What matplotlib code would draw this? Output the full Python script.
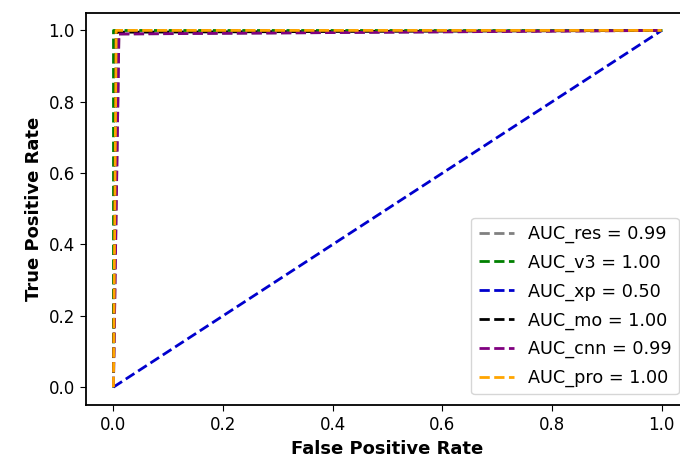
import matplotlib.pyplot as plt

# curvas ROC
nombres = ["AUC_res = 0.99", "AUC_v3 = 1.00", "AUC_xp = 0.50",
           "AUC_mo = 1.00", "AUC_cnn = 0.99", "AUC_pro = 1.00"]
colores = ["grey", "green", "mediumblue", "black", "purple", "orange"]

fpr_res = [0.0, 0.01, 1.0]
tpr_res = [0.0, 0.99, 1.0]
fpr_v3 = [0.0, 0.0, 1.0]
tpr_v3 = [0.0, 1.0, 1.0]
fpr_xp = [0.0, 1.0]
tpr_xp = [0.0, 1.0]
fpr_mo = [0.0, 0.005, 1.0]
tpr_mo = [0.0, 0.995, 1.0]
fpr_cnn = [0.0, 0.01, 1.0]
tpr_cnn = [0.0, 0.99, 1.0]
fpr_pro = [0.0, 0.005, 1.0]
tpr_pro = [0.0, 1.0, 1.0]

curvas = [(fpr_res, tpr_res), (fpr_v3, tpr_v3), (fpr_xp, tpr_xp),
          (fpr_mo, tpr_mo), (fpr_cnn, tpr_cnn), (fpr_pro, tpr_pro)]

fig = plt.figure(figsize=(6.8, 4.66), dpi=100)
# la imagen original esta recortada por la derecha
ax = fig.add_axes([0.1265, 0.131, 0.887, 0.842])
for (fpr, tpr), nombre, color in zip(curvas, nombres, colores):
    ax.plot(fpr, tpr, linestyle="--", color=color, label=nombre, linewidth=2)

ax.set_xlabel("False Positive Rate", fontweight="bold", fontsize=13)
ax.set_ylabel("True Positive Rate", fontweight="bold", fontsize=13)
ax.tick_params(labelsize=12, length=4.5)
for s in ax.spines.values():
    s.set_linewidth(1.3)
ax.spines["right"].set_visible(False)
ax.legend(loc="lower right", fontsize=12.7, borderaxespad=0.6, labelspacing=0.6)
plt.savefig("out.png")
